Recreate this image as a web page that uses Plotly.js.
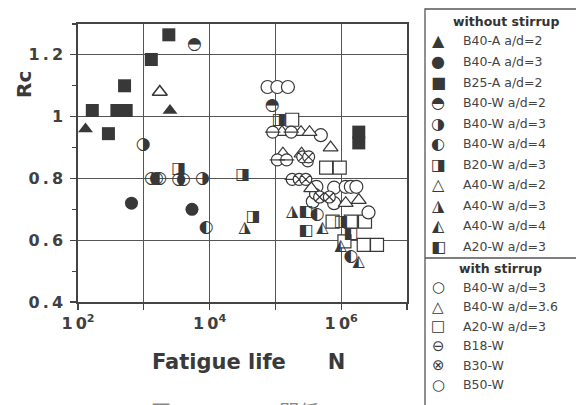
<!DOCTYPE html>
<html><head><meta charset="utf-8">
<script src="https://cdn.plot.ly/plotly-3.0.1.min.js"></script>
<style>html,body{margin:0;padding:0;background:#fff}#c{width:576px;height:405px}</style>
</head><body><div id="c"></div>
<script>
// ---- data (N = fatigue life, Rc) ----
// without stirrup
const B40A_ad2_N = [130, 2500];            const B40A_ad2_R = [0.96, 1.02];
const B40A_ad3_N = [650, 5400];            const B40A_ad3_R = [0.72, 0.70];
const B25A_ad2_N = [165, 290, 390, 540, 510, 1300, 2400, 1.85e6, 1.85e6];
const B25A_ad2_R = [1.02, 0.945, 1.02, 1.02, 1.10, 1.185, 1.265, 0.95, 0.915];
const B40W_ad2_N = [5900, 8.9e4];          const B40W_ad2_R = [1.233, 1.035];
const B40W_ad3_N = [980, 1300, 3400, 7800]; const B40W_ad3_R = [0.91, 0.80, 0.797, 0.80];
const B40W_ad4_N = [1550, 1750, 4000, 8900, 4.3e5, 1.4e6];
const B40W_ad4_R = [0.80, 0.80, 0.797, 0.64, 0.682, 0.545];
const B20W_ad3_N = [3400, 3.2e4, 4.6e4, 1.15e5, 1.0e6];
const B20W_ad3_R = [0.83, 0.81, 0.675, 0.99, 0.66];
const A40W_ad2_N = [1750];                 const A40W_ad2_R = [1.08];
const A40W_ad3_N = [3.4e4, 1.8e5];         const A40W_ad3_R = [0.64, 0.69];
const A40W_ad4_N = [5.2e5, 9.8e5, 1.85e6]; const A40W_ad4_R = [0.64, 0.58, 0.53];
const A20W_ad3_N = [2.9e5, 2.9e5, 1.4e6];  const A20W_ad3_R = [0.69, 0.63, 0.62];
// with stirrup
const sB40W_ad3_N = [7.6e4, 1.07e5, 1.55e5, 4.9e5, 4.2e5, 7.8e5, 1.17e6, 1.4e6, 1.7e6, 3.7e5, 7.8e5, 2.6e6];
const sB40W_ad3_R = [1.096, 1.096, 1.096, 0.94, 0.773, 0.77, 0.773, 0.773, 0.773, 0.725, 0.72, 0.69];
const sB40W_ad36_N = [1.26e5, 2.45e5, 3.3e5, 6.9e5, 3.5e5, 1.17e6, 1.85e6, 1.3e5, 2.5e5];
const sB40W_ad36_R = [0.95, 0.95, 0.95, 0.90, 0.768, 0.72, 0.73, 0.88, 0.88];
const sA20W_ad3_N = [1.8e5, 5.9e5, 9.5e5, 7.4e5, 1.4e6, 2.3e6, 1.12e6, 2.2e6, 3.5e6];
const sA20W_ad3_R = [0.99, 0.835, 0.835, 0.66, 0.66, 0.66, 0.596, 0.585, 0.585];
const B18W_N = [9.1e4, 1.74e5, 1.07e5, 1.48e5, 1.8e5];
const B18W_R = [0.95, 0.95, 0.86, 0.86, 0.797];
const B30W_N = [2.3e5, 2.9e5, 4.7e5, 6.6e5, 2.6e5, 3.2e5];
const B30W_R = [0.797, 0.797, 0.74, 0.74, 0.87, 0.87];
const B50W_N = [3.1e5, 4.0e5];            const B50W_R = [0.855, 0.75];

const xTickVals = [1e2, 1e3, 1e4, 1e5, 1e6, 1e7];
const xTickText = ['1\u20090<sup>2</sup>', '', '1\u20090<sup>4</sup>', '', '1\u20090<sup>6</sup>', ''];
const yTickVals = [0.4, 0.6, 0.8, 1.0, 1.2];
const yTickText = ['0\u2009.\u20094', '0\u2009.\u20096', '0\u2009.\u20098', '1', '1\u2009.\u20092'];

const legendTitles = ['without stirrup', 'with stirrup'];
const legendNoStirrup = ['B40-A a/d=2','B40-A a/d=3','B25-A a/d=2','B40-W a/d=2','B40-W a/d=3','B40-W a/d=4','B20-W a/d=3','A40-W a/d=2','A40-W a/d=3','A40-W a/d=4','A20-W a/d=3'];
const legendStirrup = ['B40-W a/d=3','B40-W a/d=3.6','A20-W a/d=3','B18-W','B30-W','B50-W'];
const glyphNoStirrup = ['\u25B2','\u25CF','\u25A0','\u25D3','\u25D1','\u25D0','\u25E8','\u25B3','\u25EE','\u25ED','\u25E7'];
const glyphStirrup = ['\u25CB','\u25B3','\u25A1','\u2296','\u2297','\u25CB'];

// ---- styling ----
const INK = '#383838';
const W = 576, H = 405, L = 78, R = 169, T = 24, B = 103;
const pw = W - L - R, ph = H - T - B;
const px = v => (v - L) / pw;          // pixel -> paper x
const py = v => (H - B - v) / ph;      // pixel -> paper y

function markerTrace(N, Rv, symbol, size, lw, fill) {
  return {x: N, y: Rv, type: 'scatter', mode: 'markers', cliponaxis: false,
    marker: {symbol: symbol, size: size, color: fill,
      line: {color: INK, width: lw}}, hoverinfo: 'x+y'};
}
function glyphTrace(N, Rv, glyph, size) {
  return {x: N, y: Rv, type: 'scatter', mode: 'text', cliponaxis: false,
    text: N.map(() => glyph), textposition: 'middle center',
    textfont: {family: 'DejaVu Sans', size: size, color: INK}, hoverinfo: 'x+y'};
}

const data = [
  markerTrace(sA20W_ad3_N, sA20W_ad3_R, 'square', 13, 1.2, '#fff'),
  markerTrace(sB40W_ad3_N, sB40W_ad3_R, 'circle', 13, 1.2, '#fff'),
  markerTrace(B50W_N, B50W_R, 'circle', 11, 1.2, '#fff'),
  markerTrace(sB40W_ad36_N, sB40W_ad36_R, 'triangle-up', 13, 1.2, '#fff'),
  markerTrace(B18W_N, B18W_R, 'circle', 12, 1.2, '#fff'),
  markerTrace(B18W_N, B18W_R, 'line-ew', 11, 1.2, INK),
  markerTrace(B30W_N, B30W_R, 'circle-x', 12, 1.2, '#fff'),
  markerTrace(B40A_ad2_N, B40A_ad2_R, 'triangle-up', 13, 0, INK),
  markerTrace(B40A_ad3_N, B40A_ad3_R, 'circle', 13, 0, INK),
  markerTrace(B25A_ad2_N, B25A_ad2_R, 'square', 13, 0, INK),
  markerTrace(A40W_ad2_N, A40W_ad2_R, 'triangle-up', 13, 1.6, '#fff'),
  glyphTrace(B40W_ad2_N, B40W_ad2_R, '\u25D3', 17),
  glyphTrace(B40W_ad3_N, B40W_ad3_R, '\u25D1', 17),
  glyphTrace(B40W_ad4_N, B40W_ad4_R, '\u25D0', 17),
  glyphTrace(B20W_ad3_N, B20W_ad3_R, '\u25E8', 16),
  glyphTrace(A40W_ad3_N, A40W_ad3_R, '\u25EE', 16),
  glyphTrace(A40W_ad4_N, A40W_ad4_R, '\u25ED', 16),
  glyphTrace(A20W_ad3_N, A20W_ad3_R, '\u25E7', 16)
];

const shapes = [
  {type: 'rect', xref: 'paper', yref: 'paper', x0: px(425), x1: px(585), y0: py(415), y1: py(9),
   line: {color: '#555', width: 1.3}},
  {type: 'line', xref: 'paper', yref: 'paper', x0: px(425), x1: px(585), y0: py(258), y1: py(258),
   line: {color: '#555', width: 1.3}}
];

const ann = [];
const LF = {family: 'DejaVu Sans', size: 12.5, color: '#444'};
ann.push({xref: 'paper', yref: 'paper', x: px(506), y: py(21), text: '<b>' + legendTitles[0] + '</b>',
  showarrow: false, xanchor: 'center', yanchor: 'middle', font: {family: 'DejaVu Sans', size: 12.5, color: '#333'}});
legendNoStirrup.forEach((n, i) => {
  const yy = 41 + i * 20.5;
  ann.push({xref: 'paper', yref: 'paper', x: px(438), y: py(yy), text: glyphNoStirrup[i], showarrow: false,
    xanchor: 'center', yanchor: 'middle', font: {family: 'DejaVu Sans', size: 16, color: INK}});
  ann.push({xref: 'paper', yref: 'paper', x: px(461), y: py(yy), text: n, showarrow: false,
    xanchor: 'left', yanchor: 'middle', font: LF});
});
ann.push({xref: 'paper', yref: 'paper', x: px(500), y: py(268), text: '<b>' + legendTitles[1] + '</b>',
  showarrow: false, xanchor: 'center', yanchor: 'middle', font: {family: 'DejaVu Sans', size: 12.5, color: '#333'}});
legendStirrup.forEach((n, i) => {
  const yy = 287 + i * 19.5;
  ann.push({xref: 'paper', yref: 'paper', x: px(438), y: py(yy), text: glyphStirrup[i], showarrow: false,
    xanchor: 'center', yanchor: 'middle', font: {family: 'DejaVu Sans', size: 15, color: INK}});
  ann.push({xref: 'paper', yref: 'paper', x: px(461), y: py(yy), text: n, showarrow: false,
    xanchor: 'left', yanchor: 'middle', font: LF});
});
// axis titles
ann.push({xref: 'paper', yref: 'paper', x: px(24), y: py(85), text: '<b>Rc</b>', textangle: -90, showarrow: false,
  xanchor: 'center', yanchor: 'middle', font: {family: 'DejaVu Sans', size: 20, color: '#3a3a3a'}});
ann.push({xref: 'paper', yref: 'paper', x: px(248), y: py(362), text: '<b>Fatigue life\u2003\u2003N</b>', showarrow: false,
  xanchor: 'center', yanchor: 'middle', font: {family: 'DejaVu Sans', size: 21, color: '#3a3a3a'}});
// caption (cut by the picture edge)
ann.push({xref: 'paper', yref: 'paper', x: px(235), y: py(411), text: '図－8　Rc－N関係', showarrow: false,
  xanchor: 'center', yanchor: 'middle', font: {family: 'Noto Sans CJK JP', size: 20, color: '#888'}});

const tickF = {family: 'DejaVu Sans', size: 16, color: '#404040', weight: 'bold'};
const layout = {
  width: W, height: H, margin: {l: L, r: R, t: T, b: B}, showlegend: false,
  paper_bgcolor: '#fff', plot_bgcolor: '#fff',
  font: {family: 'DejaVu Sans', color: '#3a3a3a'},
  xaxis: {type: 'log', range: [2, 7], tickmode: 'array', tickvals: xTickVals, ticktext: xTickText,
    showgrid: true, gridcolor: '#555', gridwidth: 1, zeroline: false,
    showline: true, mirror: true, linecolor: '#444', linewidth: 1.6,
    ticks: 'outside', ticklen: 6, tickcolor: '#444', tickwidth: 1.2,
    tickfont: tickF},
  yaxis: {range: [0.4, 1.3], tickmode: 'array', tickvals: yTickVals, ticktext: yTickText,
    showgrid: true, gridcolor: '#555', gridwidth: 1, zeroline: false,
    showline: true, mirror: true, linecolor: '#444', linewidth: 1.6,
    ticks: 'outside', ticklen: 6, tickcolor: '#444', tickwidth: 1.2,
    minor: {tick0: 0.4, dtick: 0.1, ticks: 'outside', ticklen: 4, tickcolor: '#444', showgrid: false},
    ticklabelstandoff: 4,
    tickfont: tickF},
  shapes: shapes, annotations: ann
};
Plotly.newPlot('c', data, layout, {displayModeBar: false, staticPlot: true});
</script></body></html>
